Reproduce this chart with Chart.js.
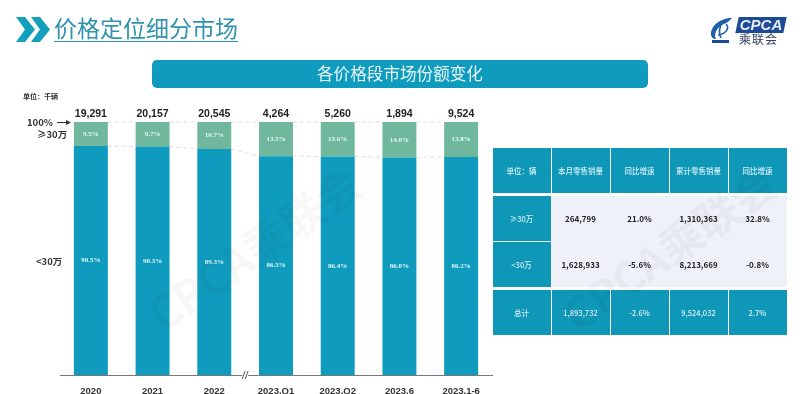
<!DOCTYPE html>
<html>
<head>
<meta charset="utf-8">
<script src="https://cdn.jsdelivr.net/npm/chart.js@4"></script>
<style>
    html, body { margin: 0; padding: 0; background: #fff; }
    body { width: 800px; height: 394px; position: relative; overflow: hidden; font-family: "Noto Sans CJK SC", "Liberation Sans", sans-serif; }
    #chartBox { position: absolute; left: 0; top: 0; width: 800px; height: 394px; }
    .abs { position: absolute; white-space: nowrap; }
    #pageTitle { left: 54px; top: 12px; font-size: 23px; line-height: 30px; color: #2f93ad; border-bottom: 1px solid #2f93ad; height: 29px; }
    #banner { left: 152px; top: 60px; width: 496px; height: 28px; line-height: 27px; background: #0f9bbd; border-radius: 5px; color: #e8f6fa; font-size: 16.6px; text-align: center; }
    #unit { left: 23px; top: 91px; font-size: 7px; line-height: 10px; font-weight: 700; color: #333; }
    .side { font-size: 9.5px; line-height: 14px; font-weight: 700; color: #333; }
    #tbl { left: 492.5px; top: 148px; width: 294px; font-size: 8px; font-weight: 700; color: #222; }
    #tbl .row { display: grid; grid-template-columns: 58px 58px 58px 58px 58px; column-gap: 1px; height: 45px; }
    #tbl .cell { display: flex; align-items: center; justify-content: center; }
    #tbl .teal { background: #0f97b8; color: #d5eff6; font-weight: 500; font-size: 7.5px; }
    #tbl .body { background: #eef2f8; margin-top: 3px; margin-bottom: 3px; }
    #tbl .body .row + .row { margin-top: 1px; }
    #logoBox { left: 737px; top: 17px; width: 48px; height: 16px; background: #1d4a96; transform: skewX(-12deg); }
    #logoText { left: 737px; top: 15px; width: 48px; text-align: center; font: italic 700 15px/20px "Liberation Sans", sans-serif; color: #e8eef8; }
    #logoCn { left: 739px; top: 32px; font-size: 12px; line-height: 13px; letter-spacing: 1px; color: #33415f; }
    .mark { color: #000; opacity: 0.03; font-size: 44px; font-weight: 700; transform: rotate(-35deg); pointer-events: none; }
</style>
</head>
<body>
<div id="chartBox"><canvas id="shareChart"></canvas></div>

<svg class="abs" style="left:16px;top:16px" width="36" height="27" viewBox="0 0 36 27">
    <polygon points="0,1 9,1 19,13.5 9,26 0,26 9,13.5" fill="#13a0bd"/>
    <polygon points="15,1 24,1 34,13.5 24,26 15,26 24,13.5" fill="#13a0bd"/>
</svg>
<div id="pageTitle" class="abs">价格定位细分市场</div>

<svg class="abs" style="left:709px;top:16px" width="26" height="28" viewBox="0 0 26 28">
    <path d="M23 2 C12 2 2 9 2 18 C2 21 4 23 7 23 C5 20 6 13 13 9 C17 7 21 5 23 2 Z" fill="#1d5fa8"/>
    <path d="M13 6 C10 12 10 18 12 22 M17 8 C21 12 17 18 9 19" stroke="#1d5fa8" stroke-width="1.6" fill="none"/>
    <rect x="3" y="24" width="17" height="3" fill="#1d4a96"/>
</svg>
<div id="logoBox" class="abs"></div>
<div id="logoText" class="abs">CPCA</div>
<div id="logoCn" class="abs">乘联会</div>

<div id="banner" class="abs">各价格段市场份额变化</div>
<div id="unit" class="abs">单位：千辆</div>
<div class="abs side" style="left:27px;top:115px">100%</div>
<div class="abs side" style="left:37px;top:127px">≥30万</div>
<div class="abs side" style="left:36px;top:254px">&lt;30万</div>
<svg class="abs" style="left:57px;top:119px" width="14" height="7" viewBox="0 0 14 7">
    <line x1="0" y1="3.5" x2="10" y2="3.5" stroke="#333" stroke-width="1"/>
    <polygon points="9,1 14,3.5 9,6" fill="#333"/>
</svg>

<div id="tbl" class="abs"></div>

<div class="abs mark" style="left:130px;top:215px">CPCA乘联会</div>
<div class="abs mark" style="left:545px;top:215px">CPCA乘联会</div>

<script>
const categories = ['2020', '2021', '2022', '2023.Q1', '2023.Q2', '2023.6', '2023.1-6'];
const totals = ['19,291', '20,157', '20,545', '4,264', '5,260', '1,894', '9,524'];
const below30 = [90.5, 90.3, 89.3, 86.5, 86.4, 86.0, 86.2];
const above30 = [9.5, 9.7, 10.7, 13.5, 13.6, 14.0, 13.8];

const tableHead = ['单位：辆', '本月零售销量', '同比增速', '累计零售销量', '同比增速'];
const tableAbove = ['≥30万', '264,799', '21.0%', '1,310,363', '32.8%'];
const tableBelow = ['<30万', '1,628,933', '-5.6%', '8,213,669', '-0.8%'];
const tableTotal = ['总计', '1,893,732', '-2.6%', '9,524,032', '2.7%'];

// 表格
function makeRow(cells, allTeal) {
    const row = document.createElement('div');
    row.className = 'row';
    cells.forEach((text, i) => {
        const cell = document.createElement('div');
        cell.className = 'cell' + (allTeal || i === 0 ? ' teal' : '');
        cell.textContent = text;
        row.appendChild(cell);
    });
    return row;
}
const tbl = document.getElementById('tbl');
tbl.appendChild(makeRow(tableHead, true));
const tblBody = document.createElement('div');
tblBody.className = 'body';
tblBody.appendChild(makeRow(tableAbove, false));
tblBody.appendChild(makeRow(tableBelow, false));
tbl.appendChild(tblBody);
tbl.appendChild(makeRow(tableTotal, true));

// 柱内百分比、顶部总量、连接虚线、坐标轴断点
const barExtras = {
    id: 'barExtras',
    beforeDatasetsDraw(chart) {
        const { ctx, scales: { y } } = chart;
        const lower = chart.getDatasetMeta(0).data;
        ctx.save();
        ctx.strokeStyle = 'rgba(90,90,90,0.2)';
        ctx.lineWidth = 1;
        ctx.setLineDash([4, 3]);
        for (let i = 0; i < lower.length - 1; i++) {
            const from = lower[i].x + lower[i].width / 2;
            const to = lower[i + 1].x - lower[i + 1].width / 2;
            [100, below30[i]].forEach((v, k) => {
                ctx.beginPath();
                ctx.moveTo(from, y.getPixelForValue(v));
                ctx.lineTo(to, y.getPixelForValue(k === 0 ? 100 : below30[i + 1]));
                ctx.stroke();
            });
        }
        ctx.restore();
    },
    afterDatasetsDraw(chart) {
        const { ctx, scales: { x, y } } = chart;
        ctx.save();
        ctx.textAlign = 'center';
        ctx.textBaseline = 'middle';
        [below30, above30].forEach((series, d) => {
            chart.getDatasetMeta(d).data.forEach((bar, i) => {
                const base = d === 0 ? 0 : below30[i];
                ctx.fillStyle = '#e6f6fa';
                ctx.font = '700 7px "Liberation Serif", serif';
                ctx.fillText(series[i].toFixed(1) + '%', bar.x, y.getPixelForValue(base + series[i] / 2));
            });
        });
        ctx.fillStyle = '#222';
        ctx.font = '700 10.5px "Liberation Sans", sans-serif';
        totals.forEach((t, i) => {
            ctx.fillText(t, x.getPixelForValue(i), y.getPixelForValue(100) - 8);
        });
        // 2022 与 2023.Q1 之间的断点
        const bx = (x.getPixelForValue(2) + x.getPixelForValue(3)) / 2;
        const by = y.getPixelForValue(0);
        ctx.fillStyle = '#fff';
        ctx.fillRect(bx - 3, by - 2, 6, 4);
        ctx.strokeStyle = '#555';
        ctx.lineWidth = 1;
        [-2, 1].forEach(dx => {
            ctx.beginPath();
            ctx.moveTo(bx + dx - 1, by + 4);
            ctx.lineTo(bx + dx + 2, by - 4);
            ctx.stroke();
        });
        ctx.restore();
    }
};

new Chart(document.getElementById('shareChart').getContext('2d'), {
    type: 'bar',
    data: {
        labels: categories,
        datasets: [
            { label: '<30万', data: below30, backgroundColor: '#0f9bbd', borderWidth: 0 },
            { label: '≥30万', data: above30, backgroundColor: '#6fb89e', borderWidth: 0 }
        ]
    },
    options: {
        responsive: true,
        maintainAspectRatio: false,
        animation: false,
        layout: { padding: { left: 60, right: 308, top: 122, bottom: 0 } },
        datasets: { bar: { barPercentage: 0.55, categoryPercentage: 1 } },
        plugins: { legend: { display: false }, title: { display: false }, tooltip: { enabled: false } },
        scales: {
            x: {
                stacked: true,
                afterFit: (scale) => { scale.height = 19; },
                grid: { display: false },
                border: { color: '#777', width: 1 },
                ticks: { color: '#333', font: { size: 9.5, weight: 'bold', family: '"Liberation Sans", sans-serif' }, maxRotation: 0, autoSkip: false, padding: 3 }
            },
            y: { stacked: true, display: false, min: 0, max: 100 }
        }
    },
    plugins: [barExtras]
});
</script>
</body>
</html>
